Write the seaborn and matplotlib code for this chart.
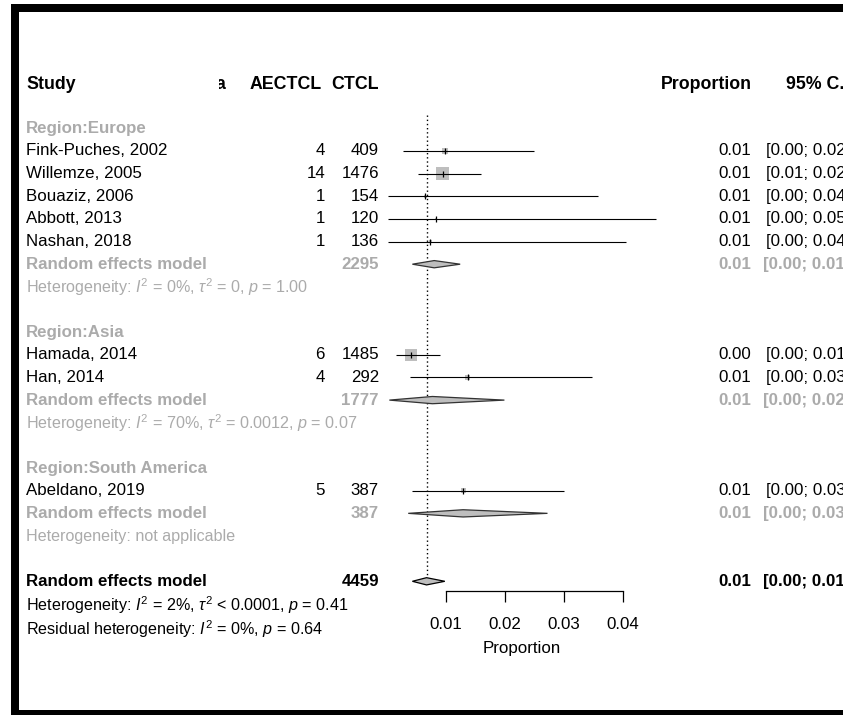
import numpy as np
import pandas as pd
import matplotlib
matplotlib.use("Agg")
import matplotlib.pyplot as plt
from matplotlib.patches import Polygon, Rectangle
from matplotlib.transforms import Bbox
import seaborn as sns

# ---- data -----------------------------------------------------------------
studies = ["Fink-Puches, 2002", "Willemze, 2005", "Bouaziz, 2006", "Abbott, 2013",
           "Nashan, 2018", "Hamada, 2014", "Han, 2014", "Abeldano, 2019"]
regions = ["Europe", "Europe", "Europe", "Europe", "Europe", "Asia", "Asia", "South America"]
events = [4, 14, 1, 1, 1, 6, 4, 5]
totals = [409, 1476, 154, 120, 136, 1485, 292, 387]
ci_lower = [0.0027, 0.0053, 0.0002, 0.0002, 0.0002, 0.0016, 0.0039, 0.0043]
ci_upper = [0.0249, 0.0160, 0.0357, 0.0456, 0.0405, 0.0089, 0.0348, 0.0300]
weights = [8.6, 40.1, 2.1, 1.0, 2.1, 34.2, 5.9, 5.9]

group_names = ["Europe", "Asia", "South America"]
group_totals = [2295, 1777, 387]
group_est = [0.0080, 0.0077, 0.0129]
group_lower = [0.0043, 0.0004, 0.0036]
group_upper = [0.0124, 0.0199, 0.0272]
group_het = [r"Heterogeneity: $I^2$ = 0%, $\tau^2$ = 0, $p$ = 1.00",
             r"Heterogeneity: $I^2$ = 70%, $\tau^2$ = 0.0012, $p$ = 0.07",
             "Heterogeneity: not applicable"]

overall_total = 4459
overall_est = 0.0067
overall_lower = 0.0043
overall_upper = 0.0098
overall_het = r"Heterogeneity: $I^2$ = 2%, $\tau^2$ < 0.0001, $p$ = 0.41"
residual_het = r"Residual heterogeneity: $I^2$ = 0%, $p$ = 0.64"

axis_ticks = [0.01, 0.02, 0.03, 0.04]

# ---- style ----------------------------------------------------------------
sns.set_theme(style="white")
plt.rcParams["font.family"] = ["Liberation Sans", "DejaVu Sans"]
plt.rcParams["mathtext.fontset"] = "custom"
plt.rcParams["mathtext.rm"] = "Liberation Sans"
plt.rcParams["mathtext.it"] = "Liberation Sans:italic"
plt.rcParams["mathtext.bf"] = "Liberation Sans:bold"

FS = 12.2
FS_HDR = 12.8
FS_HET = FS * 0.955
GREY = "#ABABAB"
SQUARE = "#BEBEBE"

W, H, DPI = 843, 715, 100
fig = plt.figure(figsize=(W / DPI, H / DPI), dpi=DPI)
ax = fig.add_axes([0, 0, 1, 1])

# horizontal scale: proportion -> page, rows -> page
X0_PX, X_PER_UNIT = 387.0, 5900.0
Y0_PX, ROW_PX = 83.0, 22.65
ax.set_xlim(-X0_PX / X_PER_UNIT, (W - X0_PX) / X_PER_UNIT)
ax.set_ylim((H - Y0_PX) / ROW_PX, -Y0_PX / ROW_PX)


def colx(px):
    """Column position given in page pixels, expressed on the proportion scale."""
    return (px - X0_PX) / X_PER_UNIT


STUDY_X = colx(26)
EV_X = colx(325)
N_X = colx(379)
EST_X = colx(751)
CI_X = colx(766)
CI_X_B = colx(763)

# ---- layout of rows -------------------------------------------------------
rows = {}
r = 2
study_rows, group_rows = [], []
for g in group_names:
    rows[("hdr", g)] = r
    r += 1
    for i, reg in enumerate(regions):
        if reg == g:
            study_rows.append(r)
            r += 1
    group_rows.append(r)
    rows[("het", g)] = r + 1
    r += 3
overall_row = r
axis_row = overall_row + 0.43

# header
hdr_kw = dict(fontsize=FS_HDR, fontweight="bold", va="center", color="black")
ax.text(STUDY_X, 0.05, "Study", ha="left", **hdr_kw)
hidden = ax.text(colx(225), 0.05, "a", ha="right", **hdr_kw)
ax.text(colx(322), 0.05, "AECTCL", ha="right", **hdr_kw)
ax.text(N_X, 0.05, "CTCL", ha="right", **hdr_kw)
ax.text(colx(752), 0.05, "Proportion", ha="right", **hdr_kw)
ax.text(colx(786), 0.05, "95% C.I.", ha="left", **hdr_kw)


def fmt(v):
    return f"{v:.2f}"


# study rows
order = []
for g in group_names:
    order += [i for i, reg in enumerate(regions) if reg == g]
est = [events[i] / totals[i] for i in range(len(studies))]
for i, row in zip(order, study_rows):
    kw = dict(fontsize=FS, va="center", color="black")
    ax.text(STUDY_X, row, studies[i], ha="left", **kw)
    ax.text(EV_X, row, str(events[i]), ha="right", **kw)
    ax.text(N_X, row, str(totals[i]), ha="right", **kw)
    ax.text(EST_X, row, fmt(est[i]), ha="right", **kw)
    ax.text(CI_X, row, f"[{fmt(ci_lower[i])}; {fmt(ci_upper[i])}]", ha="left", **kw)

df = pd.DataFrame({
    "est": [est[i] for i in order],
    "lo": [ci_lower[i] for i in order],
    "hi": [ci_upper[i] for i in order],
    "w": [weights[i] for i in order],
    "row": study_rows,
})
df["size"] = df["w"] * 2.185

# confidence intervals
ax.hlines(df["row"], df["lo"], df["hi"], color="black", lw=0.8, zorder=3)
# weight squares
sns.scatterplot(data=df, x="est", y="row", size="size", sizes=(df["size"].min(), df["size"].max()),
                marker="s", color=SQUARE, edgecolor="none", linewidth=0, legend=False,
                ax=ax, zorder=2)
# point estimate ticks
ax.scatter(df["est"], df["row"], marker="|", s=22, color="black", linewidths=0.9, zorder=4)


def diamond(center, lo, hi, row, face, edge):
    h = 0.16
    poly = Polygon([(lo, row), (center, row - h), (hi, row), (center, row + h)],
                   closed=True, facecolor=face, edgecolor=edge, lw=0.9, zorder=3)
    ax.add_patch(poly)


# subgroup summaries
for k, g in enumerate(group_names):
    hr = rows[("hdr", g)]
    ax.text(STUDY_X, hr, f"Region:{g}", ha="left", fontsize=FS, fontweight="bold",
            color=GREY, va="center")
    gr = group_rows[k]
    bkw = dict(fontsize=FS, fontweight="bold", color=GREY, va="center")
    ax.text(STUDY_X, gr, "Random effects model", ha="left", **bkw)
    ax.text(N_X, gr, str(group_totals[k]), ha="right", **bkw)
    ax.text(EST_X, gr, fmt(group_est[k]), ha="right", **bkw)
    ax.text(CI_X_B, gr, f"[{fmt(group_lower[k])}; {fmt(group_upper[k])}]", ha="left", **bkw)
    ax.text(STUDY_X, rows[("het", g)], group_het[k], ha="left", fontsize=FS_HET,
            color=GREY, va="center")
    diamond(group_est[k], group_lower[k], group_upper[k], gr, SQUARE, "#333333")

# overall summary
okw = dict(fontsize=FS, fontweight="bold", color="black", va="center")
ax.text(STUDY_X, overall_row, "Random effects model", ha="left", **okw)
ax.text(N_X, overall_row, str(overall_total), ha="right", **okw)
ax.text(EST_X, overall_row, fmt(overall_est), ha="right", **okw)
ax.text(CI_X_B, overall_row, f"[{fmt(overall_lower)}; {fmt(overall_upper)}]", ha="left", **okw)
ax.text(STUDY_X, overall_row + 1.05, overall_het, ha="left", fontsize=FS_HET,
        color="black", va="center")
ax.text(STUDY_X, overall_row + 2.1, residual_het, ha="left", fontsize=FS_HET,
        color="black", va="center")
diamond(overall_est, overall_lower, overall_upper, overall_row, SQUARE, "black")

# reference line at the pooled estimate
ax.vlines(overall_est, 1.4, overall_row - 0.2, color="black", lw=1.0,
          linestyles=(0, (1, 2)), zorder=1)

# proportion axis
for s in ["top", "left", "right"]:
    ax.spines[s].set_visible(False)
ax.spines["bottom"].set_position(("data", axis_row))
ax.spines["bottom"].set_bounds(axis_ticks[0], axis_ticks[-1])
ax.spines["bottom"].set_color("black")
ax.spines["bottom"].set_linewidth(0.9)
ax.set_xticks(axis_ticks)
ax.set_xticklabels([f"{t:.2f}" for t in axis_ticks])
ax.tick_params(axis="x", direction="out", length=8, width=0.9, pad=11, labelsize=FS,
               colors="black", labelcolor="black", bottom=True)
ax.set_yticks([])
ax.set_xlabel("Proportion", fontsize=FS, color="black")
ax.xaxis.set_label_coords(522 / W, 1 - 641 / H)
ax.grid(False)

# page frame
frame_kw = dict(transform=fig.transFigure, color="black", lw=0, zorder=10)
fig.patches.append(Rectangle((11 / W, 0), 8 / W, 1 - 4 / H, **frame_kw))
fig.patches.append(Rectangle((11 / W, 1 - 12 / H), 1, 8 / H, **frame_kw))
fig.patches.append(Rectangle((11 / W, 0), 1, 5 / H, **frame_kw))

# the stray header glyph is only partly visible
fig.canvas.draw()
hidden.set_clip_box(Bbox.from_extents(219, 0, W, H))
hidden.set_clip_on(True)

fig.savefig("out.png", dpi=DPI)
